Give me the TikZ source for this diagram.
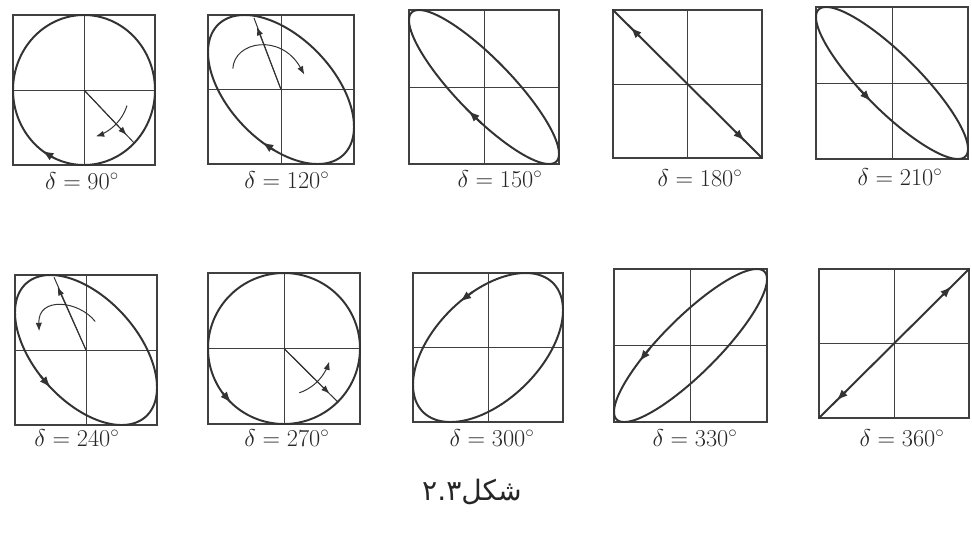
\documentclass[tikz,border=0pt]{standalone}
\usepackage{fontspec}
\usepackage{tikz}
\usetikzlibrary{arrows.meta}
\TeXXeTstate=1
\newfontfamily\arabicfont[Script=Arabic]{DejaVu Sans}

\tikzset{
  frame/.style={line width=0.9pt, black!75},
  axis/.style={line width=0.5pt, black!75},
  orbit/.style={line width=1.4pt, black!80, line join=round},
  sense/.style={line width=1.4pt, black!80, -{Latex[length=8pt,width=6pt]}},
  radius/.style={line width=0.7pt, black!80},
  vec/.style={line width=0.7pt, black!80, -{Latex[length=6pt,width=4.5pt]}},
  deg/.style={font=\LARGE, text=black!85},
}

\begin{document}
\begin{tikzpicture}[x=0.025cm, y=-0.025cm]
\useasboundingbox (0,0) rectangle (972,533);
\fill[white] (0,0) rectangle (972,533);

\foreach \px/\py/\w/\h/\d/\tips/\lx/\ly [count=\i] in {
  13/15/142/150/90/{126}/82/181,
  208/15/146/149/120/{105}/287/180,
  409/10/150/154/150/{102}/500/179,
  613/10/149/148/180/{140,320}/700/178,
  816/7/152/152/210/{254}/900/177,
  15/275/142/150/240/{240}/77/438,
  208/273/152/151/270/{226}/287/438,
  413/273/150/149/300/{112}/492/438,
  614/269/153/153/330/{132}/695/438,
  819/269/150/149/360/{140,320}/902/438}
{
  \begin{scope}[shift={(\px+\w/2,\py+\h/2)}, x=\w*0.0125cm, y=\h*0.0125cm]
    \draw[frame] (-1,-1) rectangle (1,1);
    \draw[axis] (-1,0) -- (1,0) (0,-1) -- (0,1);
    \draw[orbit] plot[domain=0:360, samples=181, variable=\s] ({cos(\s)},{cos(\s+\d)});
    \foreach \a in \tips
      \draw[sense] ({cos(\a-10)},{cos(\a-10+\d)}) -- ({cos(\a)},{cos(\a+\d)});
    \ifnum\d=90
      \draw[radius] (0,0) -- (0.707,-0.707);
      \draw[vec] (0,0) -- (0.6,-0.6);
      \draw[vec] plot[domain=-19:-75, samples=20, variable=\s] ({0.64*cos(\s)},{0.64*sin(\s)});
    \fi
    \ifnum\d=120
      \draw[radius] (0,0) -- (-0.37,0.96);
      \draw[vec] (0,0) -- (-0.33,0.84);
      \draw[vec] (-0.66,0.28) .. controls (-0.64,0.65) and (0,0.76) .. (0.32,0.2);
    \fi
    \ifnum\d=240
      \draw[radius] (0,0) -- (-0.45,0.97);
      \draw[vec] (0,0) -- (-0.4,0.84);
      \draw[vec] (0.13,0.38) .. controls (-0.1,0.66) and (-0.68,0.72) .. (-0.66,0.25);
    \fi
    \ifnum\d=270
      \draw[radius] (0,0) -- (0.707,-0.707);
      \draw[vec] (0,0) -- (0.6,-0.6);
      \draw[vec] plot[domain=-71:-16, samples=20, variable=\s] ({0.62*cos(\s)},{0.62*sin(\s)});
    \fi
  \end{scope}
  \node[deg] (lab\i) at (\lx,\ly) {$\delta = \d^\circ$};
}

\node[font=\arabicfont\fontsize{20}{24}\selectfont, text=black!85] (caption) at (472,492)
  {\beginR شکل\beginL ۲.۳\endL\endR};
\end{tikzpicture}
\end{document}
